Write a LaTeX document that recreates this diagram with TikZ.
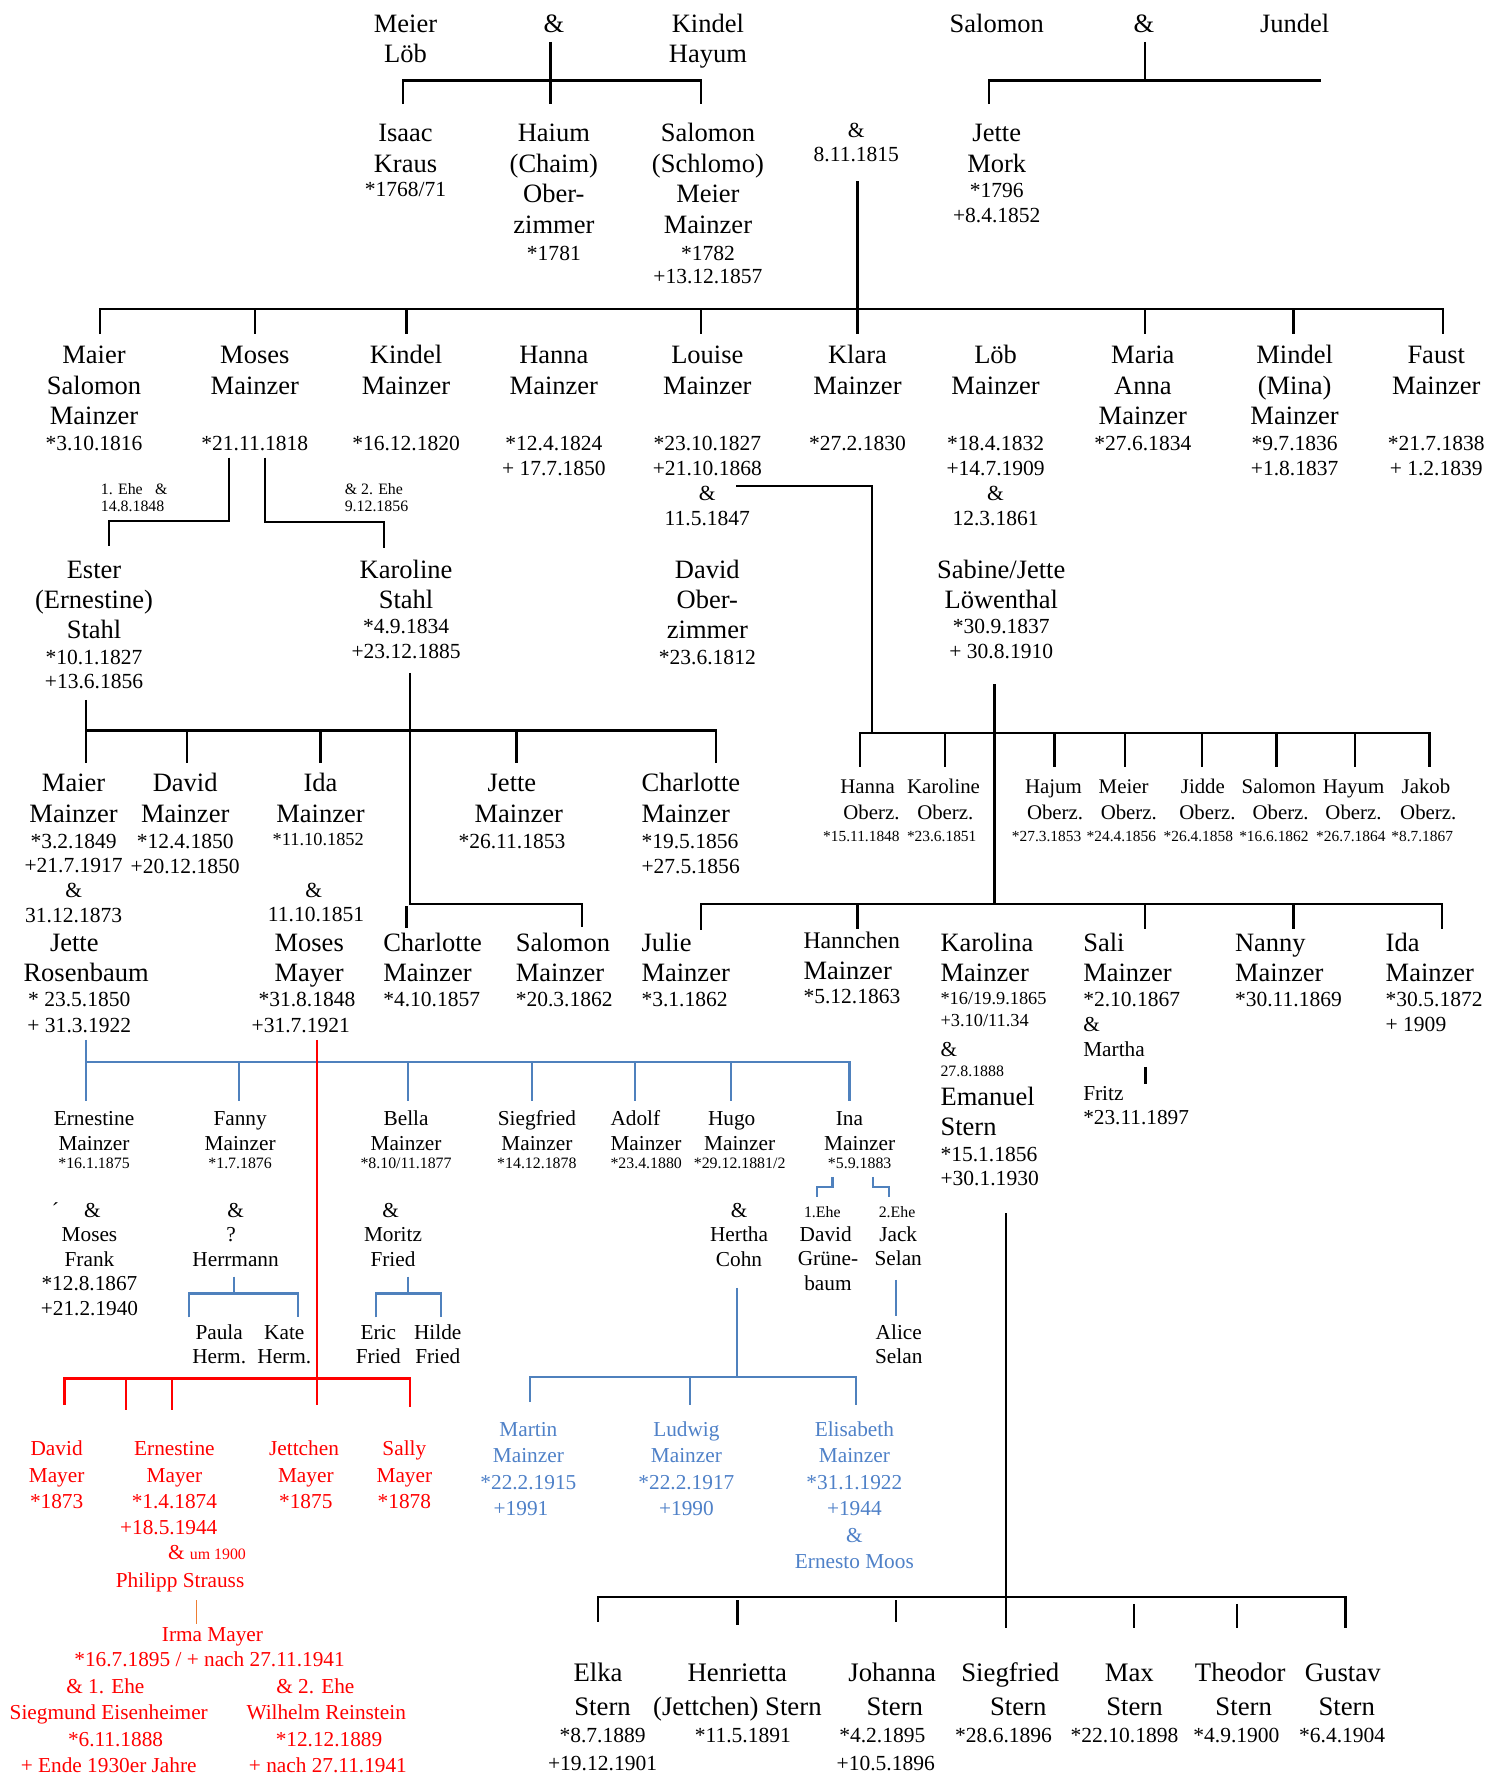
\documentclass[tikz,border=0pt]{standalone}
\usepackage{fontspec}
\setmainfont{Liberation Serif}
\definecolor{lineblue}{RGB}{79,129,189}
\definecolor{textblue}{RGB}{79,129,200}
\definecolor{lred}{RGB}{255,0,0}
\definecolor{lorange}{RGB}{237,125,49}
\newcommand\ftN{\fontsize{11.7}{13.5}\selectfont}
\newcommand\ftD{\fontsize{9.5}{11.3}\selectfont}
\newcommand\ftM{\fontsize{9.4}{11}\selectfont}
\newcommand\ftO{\fontsize{9.2}{11}\selectfont}
\newcommand\ftS{\fontsize{7}{8}\selectfont}
\newcommand\ftQ{\fontsize{6.8}{8}\selectfont}
\newcommand\ftT{\fontsize{8.1}{9}\selectfont}
\newcommand\ftL{\fontsize{11.8}{14.5}\selectfont}
\newcommand\ftH{\fontsize{10.5}{12}\selectfont}
\newcommand\vsk[1]{\noalign{\vskip#1}}
\newcommand\nwl[1]{\\\vsk{#1}}
\newcommand\stkc[2]{\vtop{\baselineskip=#1\relax\lineskiplimit=-100pt\lineskip=0pt\let\\\cr\halign{\hfil##\hfil\cr#2\crcr}}}
\newcommand\stkl[2]{\vtop{\baselineskip=#1\relax\lineskiplimit=-100pt\lineskip=0pt\let\\\cr\halign{##\hfil\cr#2\crcr}}}
\begin{document}
\begin{tikzpicture}[x=0.5pt,y=-0.5pt,
 pc/.style={anchor=base,inner sep=0pt,font=\ftN},
 pl/.style={anchor=base west,inner sep=0pt,font=\ftN},
 ln/.style={line width=1pt,black},
 bl/.style={line width=0.9pt,lineblue},
 rl/.style={line width=1pt,lred}]
\fill[white] (0,0) rectangle (1312,1568);
\useasboundingbox (0,0) rectangle (1312,1568);

% ---------- generation 0
\node[pc] (meier) at (358,28.5) {\stkc{13.2pt}{Meier\\Löb}};
\node[pc] (amp1) at (489,28.5) {\&};
\node[pc] (kindel0) at (625,28.5) {\stkc{13.2pt}{Kindel\\Hayum}};
\node[pc] (salomon0) at (880,28.5) {Salomon};
\node[pc] (amp2) at (1010,28.5) {\&};
\node[pc] (jundel) at (1143,28.5) {Jundel};

% ---------- generation 1
\node[pc] (isaac) at (358,125) {\stkc{13.7pt}{Isaac\\Kraus\nwl{-3.2pt}\ftD*1768/71}};
\node[pc] (haium) at (489,125) {\stkc{13.5pt}{Haium\\(Chaim)\\Ober-\\zimmer\nwl{-1.7pt}\ftD*1781}};
\node[pc] (salomon1) at (625,125) {\stkc{13.5pt}{Salomon\\(Schlomo)\\Meier\\Mainzer\nwl{-1.7pt}\ftD*1782\nwl{-3.2pt}\ftD+13.12.1857}};
\node[pc,font=\ftD] (marr1) at (756,121.3) {\stkc{10.7pt}{\&\\8.11.1815}};
\node[pc] (jette0) at (880,125) {\stkc{13.7pt}{Jette\\Mork\nwl{-2.85pt}\ftD*1796\nwl{-2.5pt}\ftD+8.4.1852}};

% ---------- generation 2
\node[pc] (maier1) at (83,321) {\stkc{13.5pt}{Maier\\Salomon\\Mainzer\nwl{-2.2pt}\ftD*3.10.1816}};
\node[pc] (moses) at (225,321) {\stkc{13.5pt}{Moses\\Mainzer\\\nwl{-2.2pt}\ftD*21.11.1818}};
\node[pc] (kindel1) at (358.5,321) {\stkc{13.5pt}{Kindel\\Mainzer\\\nwl{-2.2pt}\ftD*16.12.1820}};
\node[pc] (hanna) at (489,321) {\stkc{13.5pt}{Hanna\\Mainzer\\\nwl{-2.2pt}\ftD*12.4.1824\nwl{-2.5pt}\ftD+ 17.7.1850}};
\node[pc] (louise) at (624.5,321) {\stkc{13.5pt}{Louise\\Mainzer\\\nwl{-2.2pt}\ftD*23.10.1827\nwl{-2.5pt}\ftD+21.10.1868\nwl{-2.5pt}\ftD\&\nwl{-2.5pt}\ftD 11.5.1847}};
\node[pc] (klara) at (757,321) {\stkc{13.5pt}{Klara\\Mainzer\\\nwl{-2.2pt}\ftD*27.2.1830}};
\node[pc] (loeb) at (879,321) {\stkc{13.5pt}{Löb\\Mainzer\\\nwl{-2.2pt}\ftD*18.4.1832\nwl{-2.5pt}\ftD+14.7.1909\nwl{-2.5pt}\ftD\&\nwl{-2.5pt}\ftD 12.3.1861}};
\node[pc] (maria) at (1009,321) {\stkc{13.5pt}{Maria\\Anna\\Mainzer\nwl{-2.2pt}\ftD*27.6.1834}};
\node[pc] (mindel) at (1143,321) {\stkc{13.5pt}{Mindel\\(Mina)\\Mainzer\nwl{-2.2pt}\ftD*9.7.1836\nwl{-2.5pt}\ftD+1.8.1837}};
\node[pc] (faust) at (1268,321) {\stkc{13.5pt}{Faust\\Mainzer\\\nwl{-2.2pt}\ftD*21.7.1838\nwl{-2.5pt}\ftD+ 1.2.1839}};

\node[pl,font=\ftS] (ehe1) at (88.7,436.2) {\stkl{7.8pt}{1. Ehe\kern5.5pt\&\\14.8.1848}};
\node[pl,font=\ftS] (ehe2) at (304,436.2) {\stkl{7.8pt}{\& 2. Ehe\\9.12.1856}};

% ---------- spouses of generation 2
\node[pc] (ester) at (83,510.5) {\stkc{13.3pt}{Ester\\(Ernestine)\\Stahl\nwl{-1.6pt}\ftD*10.1.1827\nwl{-2.9pt}\ftD+13.6.1856}};
\node[pc] (karoline) at (358.5,510.5) {\stkc{13.3pt}{Karoline\\Stahl\nwl{-2.3pt}\ftD*4.9.1834\nwl{-2.3pt}\ftD+23.12.1885}};
\node[pc] (david0) at (624.5,510.5) {\stkc{13.3pt}{David\\Ober-\\zimmer\nwl{-1.6pt}\ftD*23.6.1812}};
\node[pc] (sabine) at (884,510.5) {\stkc{13.3pt}{Sabine/Jette\\Löwenthal\nwl{-2.3pt}\ftD*30.9.1837\nwl{-2.3pt}\ftD+ 30.8.1910}};

% ---------- generation 3 (Moses)
\node[pc] (maier2) at (65,699) {\stkc{13.6pt}{Maier\\Mainzer\nwl{-2.3pt}\ftD*3.2.1849\nwl{-2.9pt}\ftD+21.7.1917\nwl{-2.35pt}\ftD\&\nwl{-2.8pt}\ftD 31.12.1873}};
\node[pc] (david1) at (163.5,699) {\stkc{13.6pt}{David\\Mainzer\nwl{-2.3pt}\ftD*12.4.1850\nwl{-2.6pt}\ftD+20.12.1850}};
\node[pc] (ida1) at (281,699) {\stkc{13.6pt}{\kern2pt Ida\\\kern2pt Mainzer\nwl{-3.3pt}\ftT*11.10.1852\nwl{9.2pt}\ftD\&\kern4pt\nwl{-2.8pt}\ftD 11.10.1851\kern2pt}};
\node[pc] (jette2) at (455,699) {\stkc{13.6pt}{Jette\kern3pt\\\kern3pt Mainzer\nwl{-2.3pt}\ftD*26.11.1853\kern3pt}};
\node[pl] (charlotte1) at (566,699) {\stkl{13.6pt}{Charlotte\\Mainzer\nwl{-2.3pt}\ftD*19.5.1856\nwl{-2.6pt}\ftD+27.5.1856}};

\node[pc] (jetteR) at (70,840) {\stkc{13.3pt}{Jette\kern4.4pt\\\kern6pt Rosenbaum\nwl{-2.2pt}\ftD* 23.5.1850\nwl{-1.8pt}\ftD+ 31.3.1922}};
\node[pc] (mosesM) at (271,840) {\stkc{13.3pt}{\kern2pt Moses\\\kern2pt Mayer\nwl{-2.2pt}\ftD*31.8.1848\nwl{-1.8pt}\ftD+31.7.1921\kern5.5pt}};
\node[pl] (charlotte2) at (338,840) {\stkl{13.3pt}{Charlotte\\Mainzer\nwl{-2.2pt}\ftD*4.10.1857}};
\node[pl] (salomon2) at (455,840) {\stkl{13.3pt}{Salomon\\Mainzer\nwl{-2.2pt}\ftD*20.3.1862}};
\node[pl] (julie) at (566,840) {\stkl{13.3pt}{Julie\\Mainzer\nwl{-2.2pt}\ftD*3.1.1862}};

% ---------- generation 3 (Louise & David Oberzimmer)
\node[pc,font=\ftO] (hannaO) at (766,700.4) {\stkc{11.5pt}{Hanna\\\kern3.4pt Oberz.\nwl{-1.65pt}\ftQ*15.11.1848\kern5.5pt}};
\node[pc,font=\ftO] (karolineO) at (833,700.4) {\stkc{11.5pt}{Karoline\\\kern1.6pt Oberz.\nwl{-1.65pt}\ftQ*23.6.1851\kern1.6pt}};
\node[pc,font=\ftO] (hajum) at (930,700.4) {\stkc{11.5pt}{Hajum\\\kern1.5pt Oberz.\nwl{-1.65pt}\ftQ*27.3.1853\kern6pt}};
\node[pc,font=\ftO] (meierO) at (992,700.4) {\stkc{11.5pt}{Meier\\\kern4.6pt Oberz.\nwl{-1.65pt}\ftQ*24.4.1856\kern2pt}};
\node[pc,font=\ftO] (jidde) at (1062,700.4) {\stkc{11.5pt}{Jidde\\\kern4pt Oberz.\nwl{-1.65pt}\ftQ*26.4.1858\kern4pt}};
\node[pc,font=\ftO] (salomonO) at (1129,700.4) {\stkc{11.5pt}{Salomon\\\kern1.6pt Oberz.\nwl{-1.65pt}\ftQ*16.6.1862\kern4.3pt}};
\node[pc,font=\ftO] (hayum) at (1195,700.4) {\stkc{11.5pt}{Hayum\\Oberz.\nwl{-1.65pt}\ftQ*26.7.1864\kern2.4pt}};
\node[pc,font=\ftO] (jakob) at (1259,700.4) {\stkc{11.5pt}{Jakob\\\kern2pt Oberz.\nwl{-1.65pt}\ftQ*8.7.1867\kern3.4pt}};

% ---------- generation 3 (Loeb)
\node[pl] (hannchen) at (709,837) {\stkl{13.8pt}{\ftH Hannchen\\Mainzer\nwl{-2.95pt}\ftD*5.12.1863}};
\node[pl] (karolina) at (830,840) {\stkl{13.3pt}{Karolina\\Mainzer\nwl{-3pt}\ftT*16/19.9.1865\nwl{-3.7pt}\ftT+3.10/11.34}};
\node[pl,font=\ftM] (marrEm) at (830,933) {\stkl{8.8pt}{\&\\\ftS 27.8.1888}};
\node[pl] (emanuel) at (830,975.6) {\stkl{13.25pt}{Emanuel\\Stern\nwl{-1.45pt}\ftD*15.1.1856\nwl{-2.65pt}\ftD+30.1.1930}};
\node[pl] (sali) at (956,840) {\stkl{13.3pt}{Sali\\Mainzer\nwl{-2.3pt}\ftD*2.10.1867\nwl{-2.3pt}\ftM\&\nwl{-2.3pt}\ftM Martha}};
\node[pl,font=\ftM] (fritz) at (956,971.2) {\stkl{11pt}{Fritz\\*23.11.1897}};
\node[pl] (nanny) at (1090,840) {\stkl{13.3pt}{Nanny\\Mainzer\nwl{-2.2pt}\ftD*30.11.1869}};
\node[pl] (ida2) at (1223,840) {\stkl{13.3pt}{Ida\\Mainzer\nwl{-2.2pt}\ftD*30.5.1872\nwl{-2.3pt}\ftD+ 1909}};

% ---------- generation 4 (Maier & Jette Rosenbaum)
\node[pc,font=\ftM] (ernestineM) at (83,994) {\stkc{10.75pt}{Ernestine\\Mainzer\nwl{-2.5pt}\ftS*16.1.1875}};
\node[pc,font=\ftM] (fanny) at (212,994) {\stkc{10.75pt}{Fanny\\Mainzer\nwl{-2.5pt}\ftS*1.7.1876}};
\node[pc,font=\ftM] (bella) at (358.5,994) {\stkc{10.75pt}{Bella\\Mainzer\nwl{-2.5pt}\ftS*8.10/11.1877}};
\node[pc,font=\ftM] (siegfriedM) at (474,994) {\stkc{10.75pt}{Siegfried\\Mainzer\nwl{-2.5pt}\ftS*14.12.1878}};
\node[pl,font=\ftM] (adolf) at (538.6,994) {\stkl{10.75pt}{Adolf\\Mainzer\nwl{-2.5pt}\ftS*23.4.1880}};
\node[pc,font=\ftM] (hugo) at (653,994) {\stkc{10.75pt}{Hugo\kern7pt\\Mainzer\nwl{-2.5pt}\ftS*29.12.1881/2}};
\node[pc,font=\ftM] (ina) at (759,994) {\stkc{10.75pt}{Ina\kern9pt\\Mainzer\nwl{-2.5pt}\ftS*5.9.1883}};

\node[pc,font=\ftM] (accent) at (49,1074.5) {´};
\node[pc,font=\ftM] (frank) at (79,1074.5) {\stkc{10.85pt}{\kern2.6pt\&\\Moses\\Frank\\*12.8.1867\\+21.2.1940}};
\node[pc,font=\ftM] (herrmann) at (208,1074.5) {\stkc{10.85pt}{\&\\?\kern4pt\\Herrmann}};
\node[pc,font=\ftM] (fried) at (347,1074.5) {\stkc{10.85pt}{\&\kern2pt\\Moritz\\Fried}};
\node[pc,font=\ftM] (hertha) at (652.5,1074.5) {\stkc{10.85pt}{\&\\Hertha\\Cohn}};
\node[pc,font=\ftS] (eheA) at (726,1074.5) {1.Ehe};
\node[pc,font=\ftS] (eheB) at (792,1074.5) {2.Ehe};
\node[pc,font=\ftM] (david2) at (731,1096) {\stkc{10.85pt}{David\kern2pt\\Grüne-\\baum}};
\node[pc,font=\ftM] (jack) at (793,1096) {\stkc{10.85pt}{Jack\\Selan}};

\node[pc,font=\ftM] (paula) at (193.5,1183) {\stkc{10.3pt}{Paula\\Herm.}};
\node[pc,font=\ftM] (kate) at (251,1183) {\stkc{10.3pt}{Kate\\Herm.}};
\node[pc,font=\ftM] (eric) at (334,1183) {\stkc{10.3pt}{Eric\\Fried}};
\node[pc,font=\ftM] (hilde) at (386.5,1183) {\stkc{10.3pt}{Hilde\\Fried}};
\node[pc,font=\ftM] (alice) at (793.5,1183) {\stkc{10.3pt}{Alice\\Selan}};

% ---------- generation 4 (Ida & Moses Mayer), red
\node[pc,font=\ftM,text=lred] (davidM) at (50,1285.3) {\stkc{11.65pt}{David\\Mayer\\*1873}};
\node[pc,font=\ftM,text=lred] (ernestineR) at (154,1285.3) {\stkc{11.65pt}{Ernestine\\Mayer\\*1.4.1874\\+18.5.1944\kern5pt}};
\node[pc,font=\ftM,text=lred] (jettchen) at (270,1285.3) {\stkc{11.65pt}{Jettchen\kern1.6pt\\Mayer\\*1875}};
\node[pc,font=\ftM,text=lred] (sally) at (357,1285.3) {\stkc{11.65pt}{Sally\\Mayer\\*1878}};
\node[pl,font=\ftM,text=lred] (marrPh) at (148,1377) {\& {\ftS um 1900}};
\node[pc,font=\ftM,text=lred] (philipp) at (159,1402) {Philipp Strauss};
\node[pc,font=\ftM,text=lred] (irma) at (185,1449) {\stkc{11.3pt}{\kern2.6pt Irma Mayer\\*16.7.1895 / + nach 27.11.1941}};
\node[pc,font=\ftM,text=lred] (siegmund) at (96,1495) {\stkc{11.7pt}{\& 1. Ehe\kern3pt\\Siegmund Eisenheimer\\\kern6pt*6.11.1888\\+ Ende 1930er Jahre}};
\node[pc,font=\ftM,text=lred] (wilhelm) at (288,1495) {\stkc{11.7pt}{\& 2. Ehe\kern9.6pt\\Wilhelm Reinstein\\\kern2.5pt*12.12.1889\\\kern1.5pt+ nach 27.11.1941}};

% ---------- generation 5 (Hugo & Hertha), blue
\node[pc,font=\ftM,text=textblue] (martin) at (466.5,1268) {\stkc{11.7pt}{Martin\\Mainzer\\*22.2.1915\\+1991\kern6.5pt}};
\node[pc,font=\ftM,text=textblue] (ludwig) at (606,1268) {\stkc{11.7pt}{Ludwig\\Mainzer\\*22.2.1917\\+1990}};
\node[pc,font=\ftM,text=textblue] (elisabeth) at (754.3,1268) {\stkc{11.7pt}{Elisabeth\\Mainzer\\*31.1.1922\\+1944\\\&\\Ernesto Moos}};

% ---------- generation 4 (Karolina & Emanuel Stern)
\node[pc,font=\ftL] (elka) at (532,1484.8) {\stkc{14.7pt}{Elka\kern4pt\\Stern\nwl{-2.5pt}\ftD*8.7.1889\nwl{-2.6pt}\ftD+19.12.1901}};
\node[pc,font=\ftL] (henrietta) at (651,1484.8) {\stkc{14.7pt}{Henrietta\\(Jettchen) Stern\nwl{-2.5pt}\ftD\kern4.8pt*11.5.1891}};
\node[pc,font=\ftL] (johanna) at (785,1484.8) {\stkc{14.7pt}{\kern2.7pt Johanna\\\kern5pt Stern\nwl{-2.5pt}\ftD*4.2.1895\kern6pt\nwl{-2.6pt}\ftD+10.5.1896\kern3pt}};
\node[pc,font=\ftL] (siegfriedS) at (892,1484.8) {\stkc{14.7pt}{Siegfried\\\kern7pt Stern\nwl{-2.5pt}\ftD*28.6.1896\kern6pt}};
\node[pc,font=\ftL] (max) at (997,1484.8) {\stkc{14.7pt}{Max\\\kern4.6pt Stern\nwl{-2.5pt}\ftD*22.10.1898\kern4.2pt}};
\node[pc,font=\ftL] (theodor) at (1095,1484.8) {\stkc{14.7pt}{Theodor\\\kern3pt Stern\nwl{-2.5pt}\ftD*4.9.1900\kern3.4pt}};
\node[pc,font=\ftL] (gustav) at (1187,1484.8) {\stkc{14.7pt}{Gustav\kern1.5pt\\\kern2pt Stern\nwl{-2.5pt}\ftD*6.4.1904\kern2pt}};

% ================= connectors (black)
\draw[ln] (486,37) -- (486,92);
\draw[ln] (356,92) -- (356,71) -- (619,71) -- (619,92);
\draw[ln] (1011,37) -- (1011,71);
\draw[ln] (873,92) -- (873,71) -- (1166,71);
\draw[ln] (757,160) -- (757,295);
\draw[ln] (88,295) -- (88,273) -- (1274,273) -- (1274,295);
\foreach \x in {225,359,619,1011,1142} \draw[ln] (\x,273) -- (\x,295);
\draw[ln] (202,404) -- (202,460) -- (96,460) -- (96,482);
\draw[ln] (234,404) -- (234,461) -- (339,461) -- (339,484);
\draw[ln] (650,429) -- (770,429) -- (770,647);
\draw[ln] (76,618) -- (76,674);
\draw[ln] (76,645) -- (632,645) -- (632,674);
\foreach \x in {165,283,456} \draw[ln] (\x,645) -- (\x,674);
\draw[ln] (362,594) -- (362,798) -- (514,798) -- (514,818);
\draw[ln] (359,800) -- (359,819);
\draw[ln] (878,604) -- (878,798);
\draw[ln] (759,677) -- (759,647) -- (1262,647) -- (1262,677);
\foreach \x in {834,931,993,1061,1127,1196} \draw[ln] (\x,647) -- (\x,677);
\draw[ln] (619,821) -- (619,798) -- (1273,798) -- (1273,820);
\foreach \x in {757,1011,1142} \draw[ln] (\x,798) -- (\x,820);
\draw[ln,line width=1.4pt] (1011,942) -- (1011,957);
\draw[ln] (888,1071) -- (888,1437);
\draw[ln] (528,1432) -- (528,1410) -- (1188,1410) -- (1188,1437);
\draw[ln] (651,1413) -- (651,1435);
\draw[ln] (791,1413) -- (791,1432);
\draw[ln] (1001,1416) -- (1001,1437);
\draw[ln] (1092,1416) -- (1092,1437);

% ================= connectors (blue)
\draw[bl] (76,918) -- (76,972);
\draw[bl] (76,938) -- (750,938) -- (750,972);
\foreach \x in {211,360,470,561,645} \draw[bl] (\x,938) -- (\x,972);
\draw[bl] (207,1127) -- (207,1142);
\draw[bl] (167,1163) -- (167,1142) -- (263,1142) -- (263,1163);
\draw[bl] (360,1127) -- (360,1142);
\draw[bl] (332,1163) -- (332,1142) -- (389,1142) -- (389,1163);
\draw[bl] (735,1039) -- (735,1048) -- (721,1048) -- (721,1057);
\draw[bl] (771,1039) -- (771,1048) -- (785,1048) -- (785,1057);
\draw[bl] (791,1130) -- (791,1162);
\draw[bl] (651,1137) -- (651,1216);
\draw[bl] (468,1238) -- (468,1216) -- (756,1216) -- (756,1240);
\draw[bl] (609,1216) -- (609,1240);

% ================= connectors (red)
\draw[rl] (280,918) -- (280,1240);
\draw[rl] (57,1240) -- (57,1217) -- (362,1217) -- (362,1242);
\draw[rl] (111,1217) -- (111,1245);
\draw[rl] (152,1217) -- (152,1245);
\draw[lorange,line width=0.6pt] (173.5,1413) -- (173.5,1434);
\end{tikzpicture}
\end{document}
